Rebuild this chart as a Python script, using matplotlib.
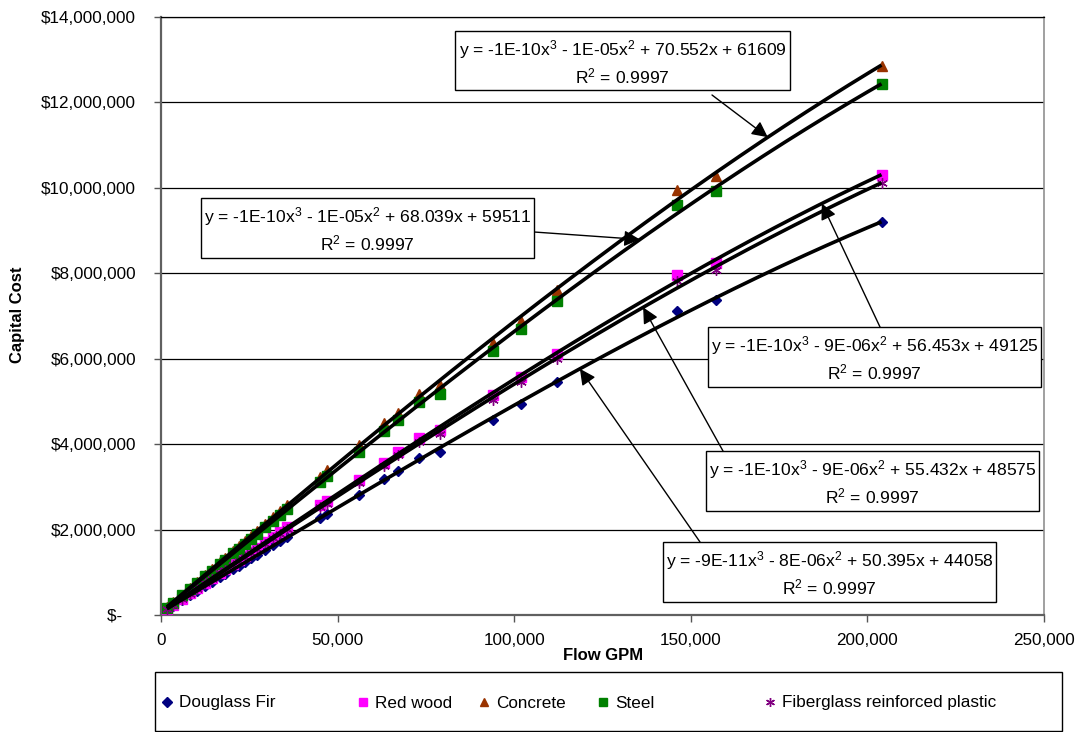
import matplotlib
matplotlib.use('Agg')
import matplotlib.pyplot as plt
from matplotlib.patches import Rectangle
from matplotlib.ticker import FuncFormatter, MultipleLocator
import numpy as np

plt.rcParams['font.family'] = ['Liberation Sans', 'DejaVu Sans']
plt.rcParams['mathtext.default'] = 'regular'

# flow (GPM) shared by all tower materials
flow = [1700, 3400, 5900, 8200, 10200, 12500, 14400, 16700, 18100, 20400,
        22000, 23800, 25500, 27200, 29400, 31700, 33700, 35700, 45000, 47000,
        56000, 63000, 67000, 73000, 79000, 94000, 102000, 112000, 146000,
        157000, 204000]

douglas_fir = [130000, 215000, 341000, 457000, 557000, 673000, 768000, 883000,
               954000, 1069000, 1149000, 1239000, 1324000, 1409000, 1519000,
               1634000, 1733000, 1833000, 2260000, 2370000, 2810000, 3180000,
               3380000, 3670000, 3820000, 4570000, 4940000, 5460000, 7120000,
               7370000, 9190000]
red_wood = [145000, 241000, 382000, 511000, 624000, 753000, 860000, 989000,
            1068000, 1197000, 1287000, 1388000, 1483000, 1578000, 1701000,
            1830000, 1941000, 2053000, 2580000, 2660000, 3160000, 3570000,
            3820000, 4140000, 4330000, 5150000, 5580000, 6110000, 7960000,
            8250000, 10300000]
concrete = [181000, 301000, 477000, 638000, 779000, 941000, 1074000, 1236000,
            1334000, 1495000, 1607000, 1733000, 1852000, 1971000, 2125000,
            2286000, 2425000, 2565000, 3240000, 3390000, 3980000, 4490000,
            4740000, 5170000, 5380000, 6360000, 6890000, 7610000, 9950000,
            10280000, 12850000]
steel = [175000, 291000, 460000, 617000, 753000, 908000, 1037000, 1193000,
         1288000, 1444000, 1552000, 1673000, 1788000, 1903000, 2051000,
         2205000, 2338000, 2476000, 3110000, 3250000, 3820000, 4310000,
         4570000, 4980000, 5180000, 6180000, 6700000, 7360000, 9590000,
         9930000, 12420000]
fiberglass = [143000, 237000, 376000, 502000, 613000, 740000, 845000, 972000,
              1049000, 1176000, 1264000, 1363000, 1456000, 1550000, 1670000,
              1797000, 1906000, 2016000, 2530000, 2610000, 3100000, 3500000,
              3740000, 4060000, 4240000, 5030000, 5460000, 5990000, 7820000,
              8070000, 10110000]

series_names = ['Douglass Fir', 'Red wood', 'Concrete', 'Steel',
                'Fiberglass reinforced plastic']

# trendline labels as Excel printed them
equations = {
    'Concrete': 'y = -1E-10x$^3$ - 1E-05x$^2$ + 70.552x + 61609',
    'Steel': 'y = -1E-10x$^3$ - 1E-05x$^2$ + 68.039x + 59511',
    'Red wood': 'y = -1E-10x$^3$ - 9E-06x$^2$ + 56.453x + 49125',
    'Fiberglass reinforced plastic': 'y = -1E-10x$^3$ - 9E-06x$^2$ + 55.432x + 48575',
    'Douglass Fir': 'y = -9E-11x$^3$ - 8E-06x$^2$ + 50.395x + 44058',
}
r2_text = 'R$^2$ = 0.9997'

W, H = 1079, 732
fig = plt.figure(figsize=(W / 100, H / 100), dpi=100)
fig.patch.set_facecolor('white')


def fx(px):
    return px / W


def fy(py):
    return 1 - py / H


ax = fig.add_axes([fx(161), fy(615), (1044 - 161) / W, (615 - 17) / H])

styles = {
    'Douglass Fir': dict(marker='D', color='#000080', ms=5.5),
    'Red wood': dict(marker='s', color='#FF00FF', ms=6.5),
    'Concrete': dict(marker='^', color='#993300', ms=7),
    'Steel': dict(marker='s', color='#008000', ms=6.5),
    'Fiberglass reinforced plastic': dict(marker=(6, 2, 0), color='#800080', ms=7.5),
}
values = {
    'Douglass Fir': douglas_fir,
    'Red wood': red_wood,
    'Concrete': concrete,
    'Steel': steel,
    'Fiberglass reinforced plastic': fiberglass,
}

x = np.array(flow, dtype=float)
handles = {}
fits = {}
for name in series_names:
    st = styles[name]
    y = np.array(values[name], dtype=float)
    h, = ax.plot(x, y, linestyle='none', marker=st['marker'], ms=st['ms'],
                 color=st['color'], mec=st['color'], mew=1.0, zorder=3,
                 label=name)
    handles[name] = h
    coef = np.polyfit(x, y, 3)
    fits[name] = coef
    xs = np.linspace(x.min(), x.max(), 400)
    ax.plot(xs, np.polyval(coef, xs), color='black', lw=2.6, zorder=4,
            solid_capstyle='butt')

ax.set_xlim(0, 250000)
ax.set_ylim(0, 14000000)
ax.xaxis.set_major_locator(MultipleLocator(50000))
ax.yaxis.set_major_locator(MultipleLocator(2000000))
ax.xaxis.set_major_formatter(FuncFormatter(lambda v, p: f'{int(v):,}'))
# accounting style: zero shown as "$-" set in from the right edge
ax.yaxis.set_major_formatter(
    FuncFormatter(lambda v, p: '$-   ' if v == 0 else f'${int(v):,}'))
ax.yaxis.grid(True, color='black', lw=0.9)
ax.set_axisbelow(True)
ax.tick_params(axis='both', direction='out', length=5, width=1,
               color='#555555', labelsize=12.3)
ax.tick_params(axis='y', pad=13)
ax.tick_params(axis='x', pad=8)
for s in ['left', 'bottom']:
    ax.spines[s].set_color('#606060')
    ax.spines[s].set_linewidth(1.6)
ax.spines['right'].set_color('#909090')
ax.spines['right'].set_linewidth(1.2)
ax.spines['top'].set_color('black')
ax.spines['top'].set_linewidth(0.9)

fig.text(fx(18), fy(315), 'Capital Cost', rotation=90, ha='center',
         va='center', fontsize=12, fontweight='bold')
fig.text(fx(603), fy(655), 'Flow GPM', ha='center', va='center',
         fontsize=12, fontweight='bold')

# trendline label boxes: (left, top, right, bottom) in pixels, arrow start, arrow tip flow
boxes = {
    'Concrete': ((455, 31, 790, 90), (712, 95), 171800),
    'Steel': ((201, 198, 534, 258), (534, 232), 135600),
    'Red wood': ((708, 327, 1041, 387), (880, 327), 187100),
    'Fiberglass reinforced plastic': ((706, 451, 1039, 511), (723, 451), 136500),
    'Douglass Fir': ((663, 542, 996, 602), (700, 542), 118600),
}
for name, (box, start, tipx) in boxes.items():
    l, t, r, b = box
    fig.patches.append(Rectangle((fx(l), fy(b)), (r - l) / W, (b - t) / H,
                                 transform=fig.transFigure, fc='white',
                                 ec='black', lw=1.0, zorder=5))
    cx = (l + r) / 2
    fig.text(fx(cx), fy(t + 19), equations[name], ha='center', va='center',
             fontsize=12.6, zorder=6)
    fig.text(fx(cx), fy(t + 45), r2_text, ha='center', va='center',
             fontsize=12.6, zorder=6)
    tipy = np.polyval(fits[name], tipx)
    ax.annotate('', xy=(tipx, tipy), xycoords='data',
                xytext=(fx(start[0]), fy(start[1])),
                textcoords='figure fraction',
                arrowprops=dict(arrowstyle='-|>', color='black', lw=1.0,
                                mutation_scale=24, shrinkA=0, shrinkB=0),
                zorder=6, annotation_clip=False)

# legend box along the bottom
fig.patches.append(Rectangle((fx(155), fy(731)), (1062 - 155) / W, (731 - 672) / H,
                             transform=fig.transFigure, fc='white',
                             ec='black', lw=1.0, zorder=1))
legend_x = [160, 356, 477, 596, 763]
for name, lx in zip(series_names, legend_x):
    leg = fig.legend(handles=[handles[name]], loc='center left',
                     bbox_to_anchor=(fx(lx), fy(703)), frameon=False,
                     fontsize=12.3, handlelength=0.8, handletextpad=0.3,
                     borderpad=0, borderaxespad=0, markerscale=0.85)
    leg.set_zorder(2)

fig.savefig('out.png', dpi=100)
